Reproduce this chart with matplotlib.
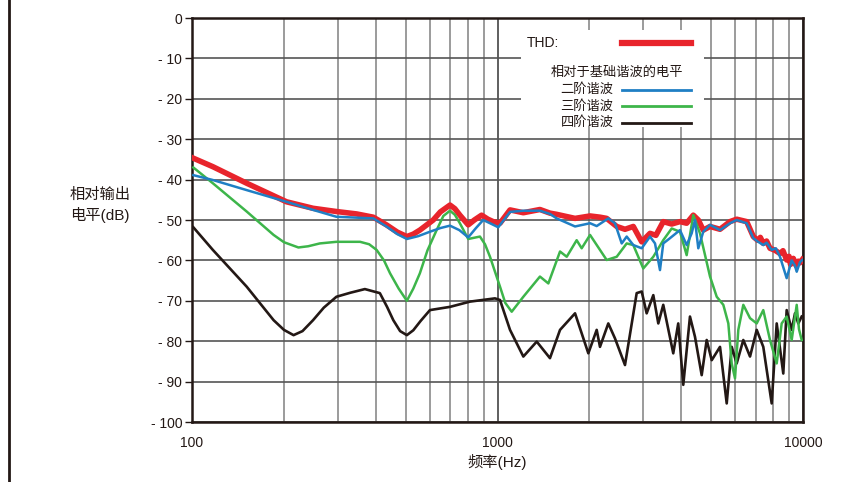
import matplotlib
matplotlib.use("Agg")
import matplotlib.pyplot as plt
from matplotlib.lines import Line2D
from matplotlib.patches import Rectangle
from matplotlib.ticker import FixedLocator, NullFormatter

plt.rcParams['font.family'] = ['Liberation Sans', 'Noto Sans CJK SC', 'DejaVu Sans']

# ---- data ----
thd_f = [101, 117, 151, 204, 249, 297, 346, 392, 433, 470, 505, 530, 557, 616, 650, 699, 725, 753,
         802, 840, 887, 930, 968,
         1019, 1099, 1215, 1377, 1485, 1562, 1794, 2009, 2165, 2277, 2456, 2614, 2783, 2965, 3157,
         3300, 3488, 3717, 3956, 4161, 4374, 4542, 4716, 4962, 5350, 5768, 6067, 6542, 6877, 7100,
         7250, 7413, 7600, 7798, 8100, 8409, 8600, 8842, 9000, 9100, 9295, 9500, 9650, 9777, 9950]
thd_db = [-34.7, -36.8, -40.9, -45.5, -47.1, -47.9, -48.5, -49.3, -51.2, -53.0, -54.1, -53.5, -52.5,
          -50.0, -48.0, -46.3, -47.2, -48.8, -51.2, -50.0, -48.8, -49.8, -50.4,
          -50.8, -47.5, -48.2, -47.4, -48.3, -48.6, -49.6, -49.0, -49.3,
          -49.6, -51.6, -52.3, -51.6, -55.4, -53.3, -53.8, -50.4, -51.0, -50.4, -50.8, -48.8, -50.0,
          -52.5, -51.6, -52.3, -50.4, -49.8, -50.4, -54.1, -55.0, -54.3, -55.8, -55.2, -57.0,
          -57.5, -58.3, -57.6, -59.9, -59.0, -61.0, -59.5, -61.3, -60.2, -60.6, -59.8]

h2_f = [101, 117, 151, 204, 249, 297, 392, 433, 470, 505, 550, 601, 650, 699, 750, 802, 850, 898,
        945, 1006,
        1099, 1215, 1377, 1485, 1562, 1794, 2009, 2112, 2305, 2424, 2550, 2648, 2783, 2965,
        3157, 3278, 3403, 3488, 3669, 3956, 4161, 4321, 4430, 4542, 4716, 4962, 5350, 5768,
        6067, 6542, 6877, 7100, 7413, 7600, 7898, 8150, 8409, 8842, 9183, 9400, 9537, 9777, 9950]
h2_db = [-38.9, -40.1, -42.6, -45.5, -47.5, -49.2, -49.6, -51.6, -53.5, -54.7, -54.0, -52.9, -52.0,
         -51.4, -52.5, -54.3, -52.0, -50.0, -50.8, -51.8,
         -48.0, -47.7, -47.7, -48.5, -49.6, -51.6, -50.8, -51.5, -49.6, -50.8,
         -55.8, -54.1, -56.2, -57.0, -54.1, -55.8, -62.4, -55.8, -54.5, -52.5, -56.2, -53.3,
         -50.0, -57.0, -52.9, -51.2, -52.5, -50.8, -50.0, -50.8, -54.5, -55.3, -56.2, -55.6,
         -57.4, -57.0, -59.1, -64.4, -60.0, -61.2, -62.8, -60.4, -59.9]

h3_f = [101, 117, 151, 185, 200, 223, 240, 262, 297, 355, 380, 402, 425, 445, 475, 505, 530, 557,
        590, 632, 665, 699, 725, 753, 802, 876, 910,
        945, 1019, 1060, 1113, 1215, 1377, 1467, 1602, 1685, 1816, 1886, 2009, 2277, 2456, 2648,
        2783, 3000, 3236, 3488, 3717, 3956, 4161, 4374, 4600, 4962, 5219, 5485, 5696, 5843,
        5990, 6141, 6377, 6708, 7055, 7413, 7798, 8202, 8516, 8842, 9183, 9537, 9700, 9902]
h3_db = [-37.0, -40.9, -47.9, -53.7, -55.5, -56.8, -56.5, -55.8, -55.4, -55.4, -56.0, -57.4, -60.0,
         -63.2, -67.0, -70.0, -67.0, -63.2, -57.5, -52.5, -49.0, -47.7, -48.7, -50.8, -54.7, -54.1,
         -56.0, -59.1, -66.5, -70.5, -72.7, -69.0, -64.0, -65.7, -57.8,
         -59.1, -55.0, -57.0, -53.7, -59.9, -59.1, -55.8, -56.2, -62.0, -59.1, -55.0, -52.1,
         -52.9, -58.7, -48.8, -53.3, -64.0, -69.0, -71.0, -75.6, -85.5, -89.2, -77.2, -71.0,
         -74.3, -75.6, -72.3, -79.7, -85.5, -75.6, -73.9, -79.7, -71.0, -77.0, -79.7]

h4_f = [101, 117, 151, 185, 200, 215, 230, 249, 270, 297, 330, 368, 412, 435, 456, 480, 505, 530,
        560, 601, 699, 813, 981,
        1019, 1099, 1215, 1344, 1485, 1602, 1794, 1983, 2112, 2165, 2305, 2424, 2614,
        2855, 2965, 3078, 3236, 3360, 3488, 3761, 3905, 4056, 4266, 4430, 4660, 4839,
        5026, 5350, 5627, 5843, 6067, 6377, 6708, 7055, 7413, 7898, 8202, 8619, 8842,
        9183, 9415, 9652, 9902]
h4_db = [-51.8, -57.4, -66.5, -74.8, -77.2, -78.5, -77.5, -74.8, -71.7, -69.0, -68.0, -67.1, -68.1,
         -71.5, -74.8, -77.5, -78.5, -77.3, -75.0, -72.3, -71.5, -70.2, -69.4,
         -69.8, -77.2, -83.8, -80.1, -84.2, -77.2, -73.1, -83.0, -77.2,
         -81.4, -75.6, -79.3, -85.9, -68.1, -67.7, -73.1, -68.6, -75.6, -71.0, -83.0, -75.6,
         -90.8, -73.9, -78.9, -88.4, -79.7, -84.7, -81.4, -95.4, -81.4, -85.5, -79.7, -83.8,
         -77.2, -81.4, -95.4, -75.6, -88.0, -72.3, -77.2, -73.1, -75.6, -73.9]

y_ticks = [0, -10, -20, -30, -40, -50, -60, -70, -80, -90, -100]
y_labels = ['0', '- 10', '- 20', '- 30', '- 40', '- 50', '- 60', '- 70', '- 80', '- 90', '- 100']
x_ticks = [100, 1000, 10000]
x_labels = ['100', '1000', '10000']
minor_x = [200, 300, 400, 500, 600, 700, 800, 900, 2000, 3000, 4000, 5000, 6000, 7000, 8000, 9000]

legend_items = ['二阶谐波', '三阶谐波', '四阶谐波']

RED = '#e8242c'
BLUE = '#1f7fc4'
GREEN = '#3db54a'
BLACK = '#231815'

fig = plt.figure(figsize=(8.61, 4.82), dpi=100)
ax = fig.add_axes([192/861, 60/482, 611/861, 404/482])
ax.set_xscale('log')
ax.set_xlim(100, 10000)
ax.set_ylim(-100, 0)

ax.xaxis.set_major_locator(FixedLocator(x_ticks))
ax.xaxis.set_minor_locator(FixedLocator(minor_x))
ax.xaxis.set_minor_formatter(NullFormatter())
ax.set_xticklabels(x_labels)
ax.set_yticks(y_ticks)
ax.set_yticklabels(y_labels)

ax.grid(True, which='major', axis='x', color='#444444', lw=1.2, zorder=0)
ax.grid(True, which='minor', axis='x', color='#8a8a8a', lw=1.2, zorder=0)
ax.grid(True, which='major', axis='y', color='#555555', lw=1.2, zorder=0)
ax.set_axisbelow(True)

ax.tick_params(axis='x', which='both', length=0, pad=10, labelsize=10, colors=BLACK)
ax.tick_params(axis='y', length=5, width=1, pad=2, labelsize=10, colors=BLACK)
for s in ax.spines.values():
    s.set_color(BLACK)
    s.set_linewidth(1.8)

ax.plot(thd_f, thd_db, color=RED, lw=4.0, zorder=3, solid_joinstyle='round')
ax.plot(h4_f, h4_db, color=BLACK, lw=1.9, zorder=4, solid_joinstyle='round')
ax.plot(h3_f, h3_db, color=GREEN, lw=1.8, zorder=5, solid_joinstyle='round')
ax.plot(h2_f, h2_db, color=BLUE, lw=1.8, zorder=6, solid_joinstyle='round')

# legend area
tr = ax.transAxes
ax.add_patch(Rectangle((0.538, 0.73), 0.30, 0.24, transform=tr, facecolor='white',
                       edgecolor='none', zorder=7))
ax.text(0.548, 0.938, 'THD:', transform=tr, fontsize=10, va='center', ha='left',
        color=BLACK, zorder=8)
ax.add_line(Line2D([0.704, 0.816], [0.938, 0.938], transform=tr, color=RED, lw=4.5, zorder=8))
ax.text(0.696, 0.864, '相对于基础谐波的电平', transform=tr, fontsize=9.5, va='center',
        ha='center', color=BLACK, zorder=8)
leg_colors = [BLUE, GREEN, BLACK]
leg_y = [0.822, 0.782, 0.740]
for lab, c, yy in zip(legend_items, leg_colors, leg_y):
    ax.text(0.690, yy, lab, transform=tr, fontsize=9.5, va='center', ha='right',
            color=BLACK, zorder=8)
    ax.add_line(Line2D([0.704, 0.816], [yy, yy], transform=tr, color=c, lw=2.0, zorder=8))

fig.text(100/861, 1 - 205/482, '相对输出\n电平(dB)', ha='center', va='center',
         fontsize=11, color=BLACK, linespacing=1.4)
fig.text(497/861, 1 - 462/482, '频率(Hz)', ha='center', va='center', fontsize=11, color=BLACK)

fig.add_artist(Line2D([9/861, 9/861], [0, 1], transform=fig.transFigure, color=BLACK, lw=2))

fig.savefig('out.png', dpi=100)
